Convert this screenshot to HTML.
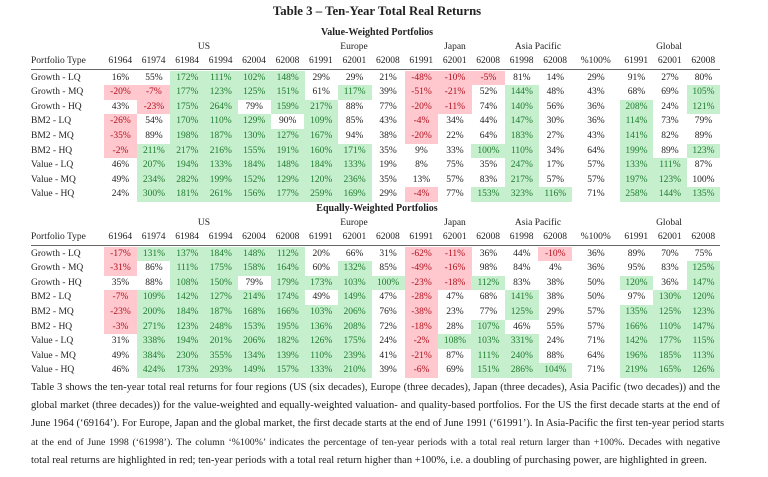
<!DOCTYPE html>
<html><head><meta charset="utf-8">
<style>
html,body{margin:0;padding:0;background:#fff;}
body{width:768px;height:477px;position:relative;overflow:hidden;font-family:"Liberation Serif",serif;color:#222;}
.a{position:absolute;white-space:nowrap;}
.c{position:absolute;text-align:center;font-size:9.5px;line-height:14.7px;height:14.7px;}
.g{background:#c6efce;color:#1e7b2e;}
.r{background:#ffc7ce;color:#b0101c;}
.p{position:absolute;left:31px;width:689px;font-size:10.5px;text-align:justify;text-align-last:justify;white-space:nowrap;}
.rule{position:absolute;left:31px;width:689px;height:1px;background:#666;}
</style></head>
<body>
<div class="a" style="left:0;width:754px;text-align:center;top:4px;font-size:12.8px;font-weight:bold;">Table 3 – Ten-Year Total Real Returns</div>
<div id="root"></div>
<div>
<div class="p" style="top:382px">Table 3 shows the ten-year total real returns for four regions (US (six decades), Europe (three decades), Japan (three decades), Asia Pacific (two decades)) and the</div>
<div class="p" style="top:400px">global market (three decades)) for the value-weighted and equally-weighted valuation- and quality-based portfolios. For the US the first decade starts at the end of</div>
<div class="p" style="top:418px">June 1964 (‘69164’). For Europe, Japan and the global market, the first decade starts at the end of June 1991 (‘61991’). In Asia-Pacific the first ten-year period starts</div>
<div class="p" style="top:437px;font-size:9.85px;">at the end of June 1998 (‘61998’). The column ‘%100%’ indicates the percentage of ten-year periods with a total real return larger than +100%. Decades with negative</div>
<div class="p" style="top:455px;text-align-last:left;">total real returns are highlighted in red; ten-year periods with a total real return higher than +100%, i.e. a doubling of purchasing power, are highlighted in green.</div>
</div>
<script>
const rowLabels=["Growth - LQ","Growth - MQ","Growth - HQ","BM2 - LQ","BM2 - MQ","BM2 - HQ","Value - LQ","Value - MQ","Value - HQ"];
const colLabels=["61964","61974","61984","61994","62004","62008","61991","62001","62008","61991","62001","62008","61998","62008","%100%","61991","62001","62008"];
const regions=["US","Europe","Japan","Asia Pacific","Global"];
const vwValues=[
[16,55,172,111,102,148,29,29,21,-48,-10,-5,81,14,29,91,27,80],
[-20,-7,177,123,125,151,61,117,39,-51,-21,52,144,48,43,68,69,105],
[43,-23,175,264,79,159,217,88,77,-20,-11,74,140,56,36,208,24,121],
[-26,54,170,110,129,90,109,85,43,-4,34,44,147,30,36,114,73,79],
[-35,89,198,187,130,127,167,94,38,-20,22,64,183,27,43,141,82,89],
[-2,211,217,216,155,191,160,171,35,9,33,100.4,110,34,64,199,89,123],
[46,207,194,133,184,148,184,133,19,8,75,35,247,17,57,133,111,87],
[49,234,282,199,152,129,120,236,35,13,57,83,217,57,57,197,123,99.6],
[24,300,181,261,156,177,259,169,29,-4,77,153,323,116,71,258,144,135]];
const ewValues=[
[-17,131,137,184,148,112,20,66,31,-62,-11,36,44,-10,36,89,70,75],
[-31,86,111,175,158,164,60,132,85,-49,-16,98,84,4,36,95,83,125],
[35,88,108,150,79,179,173,103,100.4,-23,-18,112,83,38,50,120,36,147],
[-7,109,142,127,214,174,49,149,47,-28,47,68,141,38,50,97,130,120],
[-23,200,184,187,168,166,103,206,76,-38,23,77,125,29,57,135,125,123],
[-3,271,123,248,153,195,136,208,72,-18,28,107,46,55,57,166,110,147],
[31,338,194,201,206,182,126,175,24,-2,108,103,331,24,71,142,177,115],
[49,384,230,355,134,139,110,239,41,-21,87,111,240,88,64,196,185,113],
[46,424,173,293,149,157,133,210,39,-6,69,151,286,104,71,219,165,126]];

const root=document.getElementById('root');
function colLeft(i){ if(i<14) return 103.5+i*33.45; if(i===14) return 572; return 619.5+(i-15)*33.5; }
function colW(i){ return i===14?47.5:33.45; }
const regionCenters=[204,354,455,538,669];
function drawTable(title,values,top,key){
  const t=document.createElement('div');
  t.className='a';
  
  
  t.style.cssText='left:0;width:754px;text-align:center;top:'+(top)+'px;font-size:10px;font-weight:bold;';
  t.textContent=title;root.appendChild(t);
  regions.forEach((r,i)=>{
    const d=document.createElement('div');
    d.className='a';
    
    
    d.style.cssText='left:'+(regionCenters[i]-40)+'px;width:80px;text-align:center;top:'+(top+15)+'px;font-size:9.5px;';
    d.textContent=r;root.appendChild(d);
  });
  const hy=top+29;
  const ph=document.createElement('div');
  ph.className='a';
  
  
  ph.style.cssText='left:31px;top:'+hy+'px;font-size:9.5px;';
  ph.textContent='Portfolio Type';root.appendChild(ph);
  colLabels.forEach((c,i)=>{
    const d=document.createElement('div');
    d.className='a';
    
    
    d.style.cssText='left:'+colLeft(i)+'px;width:'+colW(i)+'px;text-align:center;top:'+hy+'px;font-size:9.5px;';
    d.textContent=c;root.appendChild(d);
  });
  const rl=document.createElement('div');
  rl.className='rule';
  
  
  rl.style.top=(top+42)+'px';root.appendChild(rl);
  const y0=top+43.5;
  values.forEach((row,ri)=>{
    const ly=y0+ri*14.6;
    const l=document.createElement('div');
    l.className='c';
    
    
    l.style.left='31px';l.style.top=ly+'px';l.style.textAlign='left';
    l.textContent=rowLabels[ri];root.appendChild(l);
    row.forEach((v,ci)=>{
      const d=document.createElement('div');
      let cls='c';
      if(ci!==14){ if(v<0) cls+=' r'; else if(v>100) cls+=' g'; }
      d.className=cls;
      
      
      d.style.left=colLeft(ci)+'px';d.style.width=(colW(ci)+0.5)+'px';d.style.top=ly+'px';
      d.textContent=Math.round(v)+'%';root.appendChild(d);
    });
  });
}
drawTable('Value-Weighted Portfolios',vwValues,27,'vw');
drawTable('Equally-Weighted Portfolios',ewValues,203,'ew');
</script>
</body></html>
